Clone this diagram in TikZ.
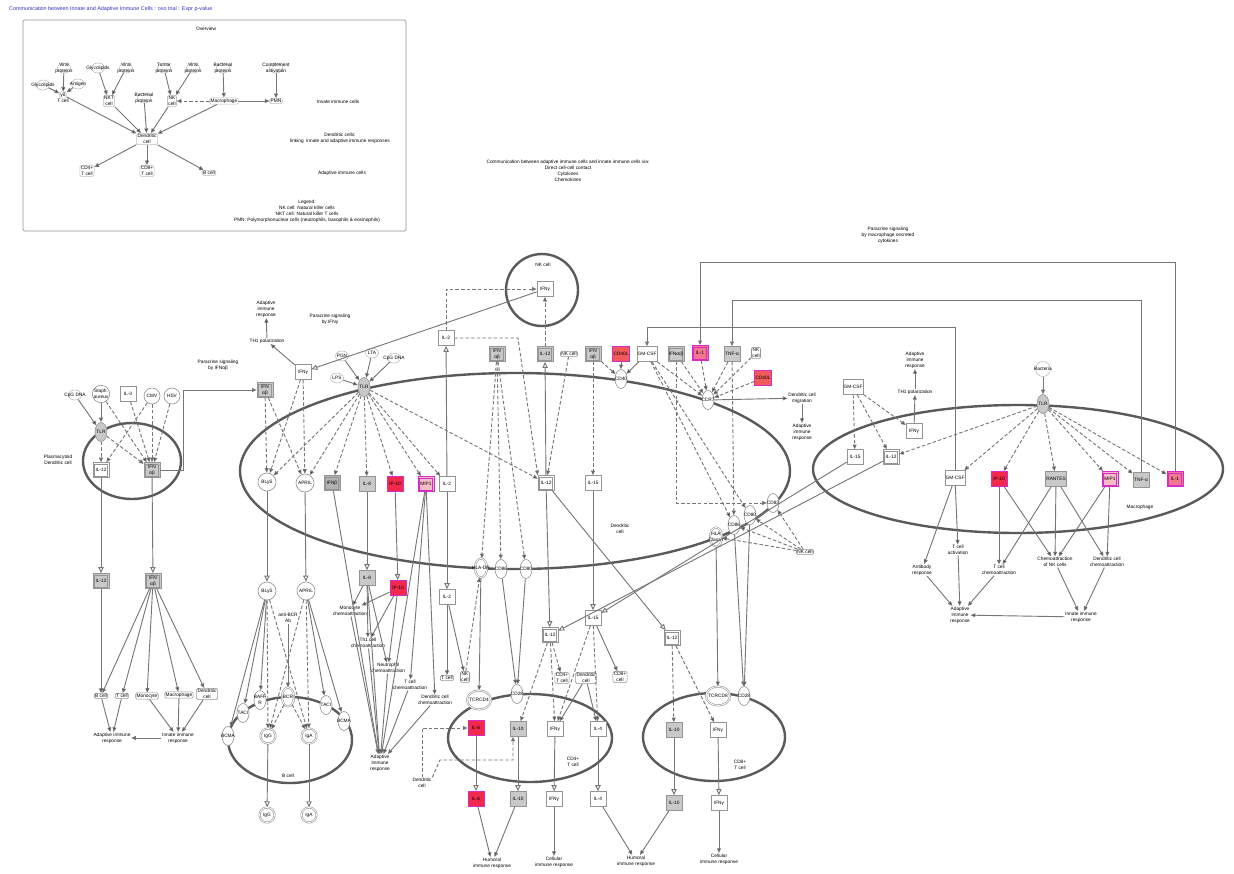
\documentclass[tikz,border=0pt]{standalone}
\usepackage{fontspec}
\setmainfont{Liberation Sans}
\usepackage{xcolor}
\usepackage{tikz}
\usetikzlibrary{shapes.geometric,arrows.meta,positioning}

\definecolor{edgegray}{HTML}{767676}
\definecolor{boxgray}{HTML}{959595}
\definecolor{molgray}{HTML}{C9C9C9}
\definecolor{darkmol}{HTML}{B2B2B2}
\definecolor{membrane}{HTML}{5A5A5A}
\definecolor{upred}{HTML}{F2294B}
\definecolor{upmid}{HTML}{F25A5A}
\definecolor{uppink}{HTML}{F0788C}
\definecolor{uplight}{HTML}{F4BCC4}
\definecolor{hilite}{HTML}{D82AC8}
\definecolor{titleblue}{HTML}{3434C4}

\begin{document}
\begin{tikzpicture}[
		x=0.05cm, y=-0.05cm,
		>=Latex,
		font=\fontsize{6.8}{8.6}\selectfont,
		mol/.style={draw=boxgray, fill=white, line width=0.9pt, minimum width=0.8cm, minimum height=0.75cm, inner sep=1pt, align=center},
		molg/.style={mol, fill=molgray},
		dframe/.style={path picture={\draw[#1, line width=0.8pt] ([shift={(1.9pt,1.9pt)}]path picture bounding box.south west) rectangle ([shift={(-1.9pt,-1.9pt)}]path picture bounding box.north east);}},
		dmol/.style={mol, dframe=boxgray},
		dmolg/.style={dmol, fill=molgray},
		upbox/.style={mol, draw=hilite, line width=1.2pt, fill=#1},
		dupbox/.style={upbox=#1, dframe=hilite},
		rec/.style={ellipse, draw=boxgray, fill=white, line width=0.9pt, minimum width=0.6cm, minimum height=0.95cm, inner sep=0pt, label={[align=center]center:#1}},
		recg/.style={rec=#1, fill=molgray},
		drec/.style={rec=#1, double=white, line width=0.8pt, double distance=1.2pt},
		lig/.style={ellipse, draw=boxgray!70, line width=0.7pt, minimum width=0.65cm, minimum height=0.5cm, inner sep=0pt, label={[align=center]center:#1}},
		ring/.style={circle, draw=boxgray, fill=white, line width=0.9pt, minimum size=0.9cm, inner sep=0pt, align=center},
		dring/.style={ring, double=white, line width=0.8pt, double distance=1.2pt, minimum size=0.75cm},
		cell/.style={draw=boxgray, fill=white, rounded corners=2pt, line width=0.8pt, inner sep=1.3pt, align=center},
		ovcell/.style={cell, draw=boxgray!60},
		fun/.style={align=center, inner sep=1pt},
		note/.style={align=center, inner sep=0pt},
		act/.style={draw=edgegray, line width=1.3pt, -{Triangle[length=6.5pt, width=5.5pt]}},
		dact/.style={act, dash pattern=on 5pt off 3pt},
		tra/.style={draw=edgegray, line width=1.3pt, -{Triangle[open, length=8.5pt, width=7.5pt]}},
		memb/.style={draw=membrane, line width=3.4pt}
		]
		\useasboundingbox (0,0) rectangle (1234,873);
		\fill[white] (0,0) rectangle (1234,873);

		% Title and notes
		\node[note, anchor=west, text=titleblue, font=\fontsize{7.7}{9}\selectfont] (title) at (9,9) {Communication between Innate and Adaptive Immune Cells : oxo trial : Expr p-value};
		\node[note] (header) at (568,171) {Communication between adaptive immune cells and innate immune cells via:\\Direct cell-cell contact\\Cytokines\\Chemokines};
		\node[note] (macnote) at (888,235) {Paracrine signaling\\by macrophage secreted\\cytokines};

		% Overview panel
		\draw[boxgray, line width=0.9pt, rounded corners=2pt] (23,20) rectangle (406,231);
		\node[note] (ovtitle) at (206,29) {Overview};
		\node[lig={Viral\\proteins}] (ovvir1) at (64,68) {};
		\node[lig=Glycolipids] (ovgly1) at (43,85) {};
		\node[lig=Antigen] (ovant) at (78,84) {};
		\node[ovcell, label={[inner sep=0.5pt]below:T cell}] (ovgd) at (63,95) {γδ};
		\node[lig=Glycolipids] (ovgly2) at (98,68) {};
		\node[lig={Viral\\proteins}] (ovvir2) at (126,68) {};
		\node[ovcell] (ovnkt) at (109,101) {NKT\\cell};
		\node[lig={Bacterial\\proteins}] (ovbac1) at (144,98) {};
		\node[lig={Tumor\\proteins}] (ovtum) at (164,68) {};
		\node[lig={Viral\\proteins}] (ovvir3) at (193,68) {};
		\node[ovcell] (ovnk) at (172,101) {NK\\cell};
		\node[lig={Bacterial\\proteins}] (ovbac2) at (223,68) {};
		\node[ovcell] (ovmac) at (224,101) {Macrophage};
		\node[lig={Complement\\activation}] (ovcomp) at (276,68) {};
		\node[ovcell] (ovpmn) at (276,101) {PMN};
		\node[ovcell] (ovdc) at (147,139) {Dendritic\\cell};
		\node[ovcell] (ovcd4) at (87,171) {CD4+\\T cell};
		\node[ovcell] (ovcd8) at (147,171) {CD8+\\T cell};
		\node[ovcell] (ovb) at (209,173) {B cell};
		\node[note] (ovinnate) at (338,102) {Innate immune cells};
		\node[note] (ovlink) at (340,138) {Dendritic cells:\\linking\ \ innate and adaptive immune responses};
		\node[note] (ovadapt) at (342,173) {Adaptive immune cells};
		\node[note] (ovlegend) at (307,211) {Legend:\\NK cell: Natural killer cells\\NKT cell: Natural killer T cells\\PMN: Polymorphonuclear cells (neutrophils, basophils \& eosinophils)};
		\path[act] (ovvir1) edge (ovgd) (ovgly1) edge (ovgd) (ovant) edge (ovgd)
			(ovgly2) edge (ovnkt) (ovvir2) edge (ovnkt) (ovtum) edge (ovnk) (ovvir3) edge (ovnk)
			(ovbac2) edge (ovmac) (ovcomp) edge (ovpmn) (ovmac) edge (ovpmn)
			(ovgd) edge (ovdc) (ovnkt) edge (ovdc) (ovbac1) edge (ovdc) (ovnk) edge (ovdc) (ovmac) edge (ovdc)
			(ovdc) edge (ovcd4) edge (ovcd8) edge (ovb);
		\path[dact] (ovmac) edge (ovnk);

		% Cell membranes
		\draw[memb] (132,461) ellipse [x radius=49, y radius=38];
		\draw[memb] (515,471) ellipse [x radius=275, y radius=98];
		\draw[memb] (542,290) circle [radius=36];
		\draw[memb] (1018,469) ellipse [x radius=205, y radius=64];
		\draw[memb] (290,740) ellipse [x radius=62, y radius=43];
		\draw[memb] (530,738) ellipse [x radius=82, y radius=44];
		\draw[memb] (714,737) ellipse [x radius=71, y radius=44];

		% Plasmacytoid dendritic cell
		\node[lig={CpG DNA}] (cpg1) at (75,395) {};
		\node[ring, minimum size=0.8cm] (staph) at (101,394) {Staph.\\aureus};
		\node[mol] (il3) at (128,394) {IL-3};
		\node[ring, minimum size=0.8cm] (cmv) at (152,396) {CMV};
		\node[ring, minimum size=0.8cm] (hsv) at (172,396) {HSV};
		\node[recg=TLR] (pdtlr) at (101,432) {};
		\node[dmol] (pdil12) at (101,470) {IL-12};
		\node[dmolg] (pdifn) at (152,470) {IFN\\αβ};
		\node[note] (pdlabel) at (58,460) {Plasmacytoid\\Dendritic cell};
		\node[note] (parab) at (218,365) {Paracrine signaling\\by IFNαβ};
		\node[dmolg] (lil12) at (101,581) {IL-12};
		\node[dmolg] (lifn) at (153,581) {IFN\\αβ};
		\node[cell] (lbcell) at (101,696) {B cell};
		\node[cell] (ltcell) at (122,696) {T cell};
		\node[cell] (lmono) at (147,696) {Monocyte};
		\node[cell] (lmac) at (179,695) {Macrophage};
		\node[cell] (ldc) at (207,694) {Dendritic\\cell};
		\node[fun] (ladapt) at (112,738) {Adaptive immune\\response};
		\node[fun] (linnate) at (178,738) {Innate immune\\response};

		% Dendritic cell: upstream signals
		\node[fun] (adapt1) at (266,309) {Adaptive\\immune\\response};
		\node[fun] (th1a) at (267,341) {TH1 polarization};
		\node[note] (parag) at (330,319) {Paracrine signaling\\by IFNγ};
		\node[mol] (ifng1) at (303,372) {IFNγ};
		\node[dmolg] (ifnab1) at (265,390) {IFN\\αβ};
		\node[lig=PGN] (pgn) at (342,356) {};
		\node[lig=LPS] (lps) at (337,378) {};
		\node[lig=LTA] (lta) at (372,353) {};
		\node[lig={CpG DNA}] (cpg2) at (394,358) {};
		\node[recg=TLR] (tlr) at (364,387) {};
		\node[ring] (blys1) at (267,482) {BLyS};
		\node[ring] (april1) at (305,483) {APRIL};
		\node[dmol, fill=darkmol] (ifnb) at (332,483) {IFNβ};
		\node[molg] (il8a) at (367,484) {IL-8};
		\node[upbox=upred] (ip10a) at (395,484) {IP-10};
		\node[dupbox=uplight] (mip1a) at (426,484) {MIP1};
		\node[mol] (il2a) at (447,484) {IL-2};
		\node[dmol] (il12b) at (546,483) {IL-12};
		\node[mol] (il15a) at (593,483) {IL-15};
		\node[note] (nklabel) at (543,265) {NK cell};
		\node[mol] (nkifng) at (545,289) {IFNγ};
		\node[mol] (il2b) at (446,338) {IL-2};
		\node[dmolg] (ifnab2) at (497,354) {IFN\\αβ};
		\node[dmolg] (il12a) at (545,354) {IL-12};
		\node[cell] (nkc1) at (569,354) {NK cell};
		\node[dmolg] (ifnab3) at (593,354) {IFN\\αβ};
		\node[upbox=upmid] (cd40l1) at (621,354) {CD40L};
		\node[mol] (gmcsf1) at (647,354) {GM-CSF};
		\node[rec=CD40] (cd40) at (621,379) {};
		\node[dmolg] (ifnab4) at (676,354) {IFNα/β};
		\node[dupbox=uppink] (il1a) at (700,353) {IL-1};
		\node[molg] (tnfa1) at (732,354) {TNF-α};
		\node[cell] (nkc2) at (756,353) {NK\\cell};
		\node[upbox=upmid] (cd40l2) at (763,378) {CD40L};
		\node[rec=CCR7] (ccr7) at (708,400) {};
		\node[fun] (dcmig) at (802,398) {Dendritic cell\\migration};
		\node[fun] (adapt2) at (802,432) {Adaptive\\immune\\response};
		\node[note] (dclabel) at (620,529) {Dendritic\\cell};

		% Dendritic cell: surface contacts
		\node[rec=CD83] (cd83) at (773,503) {};
		\node[rec=CD80] (cd80a) at (750,515) {};
		\node[rec=CD86] (cd86a) at (734,525) {};
		\node[drec={HLA\\Class I}] (hla1) at (716,537) {};
		\node[cell] (nkc3) at (805,552) {NK cell};
		\node[drec=HLA-DR] (hladr) at (481,568) {};
		\node[rec=CD86] (cd86b) at (501,569) {};
		\node[rec=CD80] (cd80b) at (526,569) {};

		% Chemoattraction below the dendritic cell
		\node[molg] (il8b) at (367,578) {IL-8};
		\node[upbox=upred] (ip10c) at (398,588) {IP-10};
		\node[mol] (il2c) at (447,597) {IL-2};
		\node[fun] (monochem) at (350,611) {Monocyte\\chemoattraction};
		\node[fun] (th1chem) at (368,643) {Th1 cell\\chemoattraction};
		\node[fun] (neuchem) at (388,668) {Neutrophil\\chemoattraction};
		\node[fun] (tchem1) at (410,685) {T cell\\chemoattraction};
		\node[fun] (dcchem1) at (435,700) {Dendritic cell\\chemoattraction};
		\node[fun] (adapt5) at (380,763) {Adaptive\\immune\\response};
		\node[cell] (tc2) at (447,678) {T cell};
		\node[cell] (nkc4) at (465,677) {NK\\cell};

		% CD4+ T cell
		\node[drec=TCRCD4, minimum width=1.2cm] (tcr4) at (479,700) {};
		\node[rec=CD28] (cd28a) at (517,694) {};
		\node[dmol] (il12d) at (550,635) {IL-12};
		\node[mol] (il15c) at (593,618) {IL-15};
		\node[cell] (cd4c) at (562,678) {CD4+\\T cell};
		\node[cell] (dcc) at (586,678) {Dendritic\\cell};
		\node[cell] (cd8c) at (620,677) {CD8+\\cell};
		\node[upbox=upred] (il6a) at (476,728) {IL-6};
		\node[molg] (il10a) at (518,729) {IL-10};
		\node[mol] (ifng3) at (555,729) {IFNγ};
		\node[mol] (il4a) at (598,729) {IL-4};
		\node[note] (cd4label) at (573,762) {CD4+\\T cell};
		\node[fun] (dcc2) at (422,783) {Dendritic\\cell};
		\node[upbox=upred] (il6b) at (476,799) {IL-6};
		\node[molg] (il10b) at (518,799) {IL-10};
		\node[mol] (ifng4) at (554,799) {IFNγ};
		\node[mol] (il4b) at (598,799) {IL-4};
		\node[fun] (humoral1) at (492,863) {Humoral\\immune response};
		\node[fun] (cellular1) at (554,862) {Cellular\\immune response};
		\node[fun] (humoral2) at (636,861) {Humoral\\immune response};

		% CD8+ T cell
		\node[dmol] (il12e) at (672,638) {IL-12};
		\node[drec=TCRCD8, minimum width=1.2cm] (tcr8) at (718,696) {};
		\node[rec=CD28] (cd28b) at (744,696) {};
		\node[molg] (il10c) at (674,730) {IL-10};
		\node[mol] (ifng5) at (718,730) {IFNγ};
		\node[note] (cd8label) at (740,765) {CD8+\\T cell};
		\node[molg] (il10d) at (674,803) {IL-10};
		\node[mol] (ifng6) at (719,803) {IFNγ};
		\node[fun] (cellular2) at (719,859) {Cellular\\immune response};

		% B cell
		\node[ring] (blys2) at (267,591) {BLyS};
		\node[ring] (april2) at (306,591) {APRIL};
		\node[fun] (antibcr) at (288,618) {anti-BCR\\Ab};
		\node[rec={BAFF\\R}] (baffr) at (260,700) {};
		\node[drec=BCR] (bcr) at (288,697) {};
		\node[rec=TACI] (taci1) at (243,713) {};
		\node[rec=TACI] (taci2) at (326,705) {};
		\node[rec=BCMA] (bcma1) at (228,736) {};
		\node[rec=BCMA] (bcma2) at (344,721) {};
		\node[dring] (igg1) at (268,736) {IgG};
		\node[dring] (iga1) at (309,736) {IgA};
		\node[note] (blabel) at (288,776) {B cell};
		\node[dring] (igg2) at (267,815) {IgG};
		\node[dring] (iga2) at (309,815) {IgA};

		% Macrophage
		\node[mol] (gmcsf2) at (853,387) {GM-CSF};
		\node[fun] (adapt3) at (915,360) {Adaptive\\immune\\response};
		\node[fun] (th1b) at (915,392) {TH1 polarization};
		\node[mol] (ifng2) at (914,431) {IFNγ};
		\node[mol] (il15b) at (855,457) {IL-15};
		\node[dmol] (il12c) at (891,457) {IL-12};
		\node[mol] (gmcsf3) at (955,478) {GM-CSF};
		\node[lig=Bacteria, minimum width=0.75cm, minimum height=0.75cm] (bact) at (1043,369) {};
		\node[recg=TLR] (mtlr) at (1043,404) {};
		\node[upbox=upred] (ip10b) at (999,479) {IP-10};
		\node[molg] (rantes) at (1056,479) {RANTES};
		\node[dupbox=uplight] (mip1b) at (1110,479) {MIP1};
		\node[molg] (tnfa2) at (1141,480) {TNF-α};
		\node[dupbox=uppink] (il1b) at (1175,479) {IL-1};
		\node[note] (maclabel) at (1140,507) {Macrophage};
		\node[fun] (tact) at (958,550) {T cell\\activation};
		\node[fun] (abresp) at (922,570) {Antibody\\response};
		\node[fun] (adapt4) at (960,615) {Adaptive\\immune\\response};
		\node[fun] (tchem2) at (999,570) {T cell\\chemoattraction};
		\node[fun] (nkchem) at (1055,562) {Chemoattraction\\of NK cells};
		\node[fun] (dcchem2) at (1107,562) {Dendritic cell\\chemoattraction};
		\node[fun] (innate2) at (1081,617) {Innate immune\\response};

		% --- Connectors ---

		% Plasmacytoid DC
		\path[act] (cpg1) edge (pdtlr) (staph) edge (pdtlr);
		\path[dact] (pdtlr) edge (pdil12) edge (pdifn)
			(staph) edge (pdifn) (il3) edge (pdifn)
			(cmv) edge (pdifn) edge (pdil12) (hsv) edge (pdifn);
		\draw[act] (pdifn.east) -- ++(23,0) |- (ifnab1.west);
		\path[tra] (pdil12) edge (lil12) (pdifn) edge (lifn);
		\path[act] (lil12) edge (lbcell)
			(lifn) edge (lbcell) edge (ltcell) edge (lmono) edge (lmac) edge (ldc)
			(lbcell) edge (ladapt) (ltcell) edge (ladapt)
			(lmono) edge (linnate) (lmac) edge (linnate) (ldc) edge (linnate)
			(linnate) edge (ladapt);

		% Dendritic cell inputs
		\path[act] (ifng1) edge (th1a) (th1a) edge (adapt1)
			(pgn) edge (tlr) (lps) edge (tlr) (lta) edge (tlr) (cpg2) edge (tlr);
		\path[tra] (nkifng) edge (ifng1);
		\path[dact] (ifng1) edge (blys1) edge (april1)
			(ifnab1) edge (blys1) edge (april1)
			(tlr) edge (blys1) edge (april1) edge (ifnb) edge (il8a) edge (ip10a) edge (mip1a) edge (il2a) edge (il12b);
		\path[tra] (il2a) edge (il2b) (il12b) edge (il12a);
		\draw[dact] (il2b.north) |- (nkifng.west);
		\draw[dact] (il2b.east) -- (518,338) -- (il12b.north west);
		\path[dact] (il12a) edge (nkifng) (nkc1) edge (il12b)
			(ifnab3) edge (il15a) edge (cd40)
			(ifnab2) edge (hladr) edge (cd86b) edge (cd80b);
		\path[act] (cd40l1) edge (cd40) (gmcsf1) edge (cd40);
		\path[tra] (il8a) edge (il8b) (ip10a) edge (ip10c) (il2a) edge (il2c)
			(il12b) edge (il12d) edge (il12e) (il15a) edge (il15c)
			(il15b) edge (il15c) (il12c) edge (il12d);

		% CCR7 and co-stimulation
		\path[dact] (gmcsf1) edge (ccr7) (ifnab4) edge (ccr7) (il1a) edge (ccr7)
			(tnfa1) edge (ccr7) (nkc2) edge (ccr7) (cd40l2) edge (ccr7)
			(gmcsf1) edge (cd86a) edge (cd80a) (tnfa1) edge (cd86a)
			(nkc3) edge (cd83) edge (cd80a) edge (cd86a) edge (hla1);
		\draw[dact] (ifnab4.south) |- (cd83.west);
		\path[act] (ccr7) edge (dcmig) (dcmig) edge (adapt2)
			(hla1) edge (tcr8) (cd86a) edge (cd28b) (cd80a) edge (cd28b);

		% Macrophage
		\path[dact] (gmcsf2) edge (il15b) edge (il12c) edge (ifng2) (mtlr) edge (il12c)
			(mtlr) edge (gmcsf3) edge (ip10b) edge (rantes) edge (mip1b) edge (tnfa2) edge (il1b);
		\path[act] (ifng2) edge (th1b) (th1b) edge (adapt3) (bact) edge (mtlr)
			(gmcsf3) edge (abresp) edge (tact) (tact) edge (adapt4) (abresp) edge (adapt4)
			(ip10b) edge (tchem2) edge (nkchem)
			(rantes) edge (tchem2) edge (nkchem) edge (dcchem2)
			(mip1b) edge (nkchem) edge (dcchem2)
			(tchem2) edge (adapt4) (nkchem) edge (innate2) (dcchem2) edge (innate2)
			(innate2) edge (adapt4);
		% Paracrine feedback from macrophage
		\draw[act] (il1b.north) |- (700,262) -- (il1a.north);
		\draw[act] (tnfa2.north) |- (732,300) -- (tnfa1.north);
		\draw[act] (gmcsf3.north) |- (647,327) -- (gmcsf1.north);

		% Chemoattraction and T cells
		\path[act] (il8b) edge (monochem) edge (th1chem) edge (neuchem)
			(ip10c) edge (monochem) edge (th1chem) edge (neuchem)
			(mip1a) edge (tchem1) edge (dcchem1) edge (adapt5)
			(ifnb) edge (adapt5) (il8b) edge (adapt5)
			(monochem) edge (adapt5) (th1chem) edge (adapt5) (neuchem) edge (adapt5)
			(tchem1) edge (adapt5) (dcchem1) edge (adapt5)
			(il2c) edge (tc2) edge (nkc4)
			(hladr) edge (tcr4) (cd86b) edge (cd28a) (cd80b) edge (cd28a)
			(il15c) edge (cd8c) (dcc) edge (ifng3) edge (il4a);
		\path[dact] (nkc4) edge (hladr)
			(il12d) edge (il10a) edge (ifng3) edge (cd4c)
			(il15c) edge (ifng3) edge (il4a)
			(il12e) edge (il10c) edge (ifng5);
		\draw[dact] (dcc2.north) |- (il6a.west);
		\draw[dact] (dcc2.north east) -- (440,760) -| ([xshift=-0.25cm]il10a.south);
		\path[tra] (il6a) edge (il6b) (il10a) edge (il10b) (ifng3) edge (ifng4) (il4a) edge (il4b)
			(il10c) edge (il10d) (ifng5) edge (ifng6);
		\path[act] (il6b) edge (humoral1) (il10b) edge (humoral1) (ifng4) edge (cellular1)
			(il4b) edge (humoral2) (il10d) edge (humoral2) (ifng6) edge (cellular2);

		% B cell
		\path[tra] (blys1) edge (blys2) (april1) edge (april2) (igg1) edge (igg2) (iga1) edge (iga2);
		\path[act] (blys2) edge (baffr) edge (taci1) edge (bcma1)
			(april2) edge (taci2) edge (bcma2) (antibcr) edge (bcr);
		\path[dact] (blys2) edge (igg1) edge (iga1) (april2) edge (igg1) edge (iga1)
			(bcr) edge (igg1) edge (iga1);

	\end{tikzpicture}
\end{document}
